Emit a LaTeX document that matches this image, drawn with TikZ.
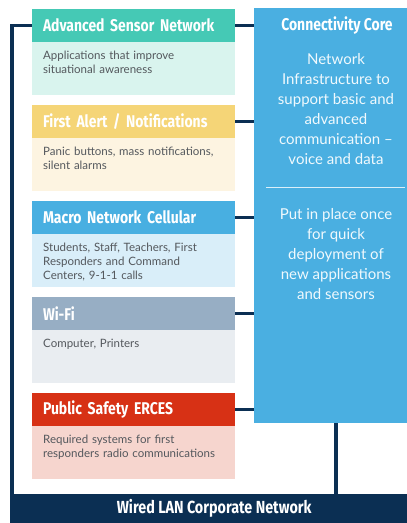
\documentclass[tikz,border=0pt]{standalone}
\usepackage{fontspec}
\setmainfont{Lato}
\newfontfamily\headfont{Fira Sans}[FakeStretch=0.82]
\usetikzlibrary{positioning,calc}

\definecolor{navy}{HTML}{0B2F53}
\definecolor{coreblue}{HTML}{4AAFE1}
\definecolor{tealH}{HTML}{45C9B5}
\definecolor{tealB}{HTML}{D9F4EE}
\definecolor{goldH}{HTML}{F5D577}
\definecolor{goldB}{HTML}{FDF4E1}
\definecolor{blueH}{HTML}{48AFE1}
\definecolor{blueB}{HTML}{D9EEF9}
\definecolor{greyH}{HTML}{97AEC4}
\definecolor{greyB}{HTML}{E9EDF1}
\definecolor{redH}{HTML}{D73115}
\definecolor{redB}{HTML}{F6D5CE}
\definecolor{bodygrey}{HTML}{54585D}

\tikzset{
  head/.style={anchor=north west, minimum height=33pt, inner xsep=11pt, inner ysep=0pt,
    text width=181pt, align=left, text=white, outer sep=0pt,
    font=\headfont\bfseries\fontsize{17}{19}\selectfont},
  bodybox/.style={minimum width=203pt, minimum height=53pt, inner sep=0pt, outer sep=0pt},
  bodytext/.style={anchor=north west, inner sep=0pt, text width=190pt, align=left,
    text=bodygrey, font=\fontsize{11.5}{14}\selectfont},
  core/.style={anchor=north west, minimum width=153pt, minimum height=415pt,
    inner sep=0pt, outer sep=0pt, fill=coreblue},
  coretext/.style={anchor=north, inner sep=0pt, align=center, text=white!92!coreblue,
    font=\fontsize{15}{20}\selectfont},
  link/.style={navy, line width=3.5pt}
}

\begin{document}
\begin{tikzpicture}[x=1pt,y=-1pt]
\useasboundingbox (0,0) rectangle (407,523);

% connectivity core
\node[core] (core) at (254,8) {};
\node[text=white, font=\headfont\bfseries\fontsize{17}{19}\selectfont] (coretitle) at (337,25) {Connectivity Core};
\node[coretext] (coreinfo) at (336,53) {Network\\Infrastructure to\\support basic and\\advanced\\communication --\\voice and data};
\draw[white!80!coreblue, line width=1pt] (266,187) -- (405,187);
\node[coretext] (coreonce) at (336,208) {Put in place once\\for quick\\deployment of\\new applications\\and sensors};

% wired LAN bar
\node[anchor=north west, minimum width=397pt, minimum height=29pt, inner sep=0pt, fill=navy,
  text=white, font=\headfont\bfseries\fontsize{17.5}{19}\selectfont] (lan) at (10,494) {\hspace{11pt}Wired LAN Corporate Network};

% application boxes
\foreach \n/\hc/\bc/\ttl/\txt [count=\i from 0] in {
  sensor/tealH/tealB/{Advanced Sensor Network}/{Applications that improve\\situational awareness},
  alert/goldH/goldB/{First Alert / Notifications}/{Panic buttons, mass notifications,\\silent alarms},
  cell/blueH/blueB/{Macro Network Cellular}/{Students, Staff, Teachers, First\\Responders and Command\\Centers, 9-1-1 calls},
  wifi/greyH/greyB/{Wi-Fi}/{Computer, Printers},
  erces/redH/redB/{Public Safety ERCES}/{Required systems for first\\responders radio communications}} {
  \node[head, fill=\hc] (hd\n) at (32,9+96*\i) {\ttl};
  \node[bodybox, fill=\bc, below=0pt of hd\n] (bd\n) {};
  \node[bodytext] (tx\n) at ($(bd\n.north west)+(11,9)$) {\txt};
  \draw[link] (hd\n.east) -- (hd\n.east -| core.west);
}

% bus lines
\coordinate (busL) at (12,494);
\coordinate (busR) at (336,494);
\draw[link] (hdsensor.west) -| (busL);
\draw[link] (busR |- core.south) -- (busR);
\end{tikzpicture}
\end{document}
